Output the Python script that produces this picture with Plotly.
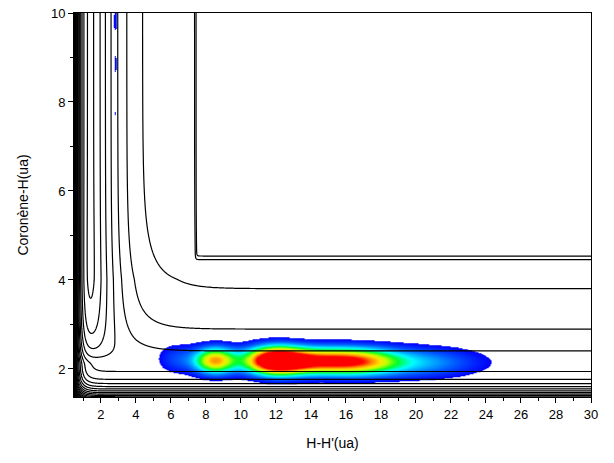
import numpy as np
import plotly.graph_objects as go

# ---------------- values ----------------
X_RANGE = [0.47, 30.0]
Y_RANGE = [1.37, 10.0]
X_MAJOR = list(range(2, 31, 2))
X_MINOR = list(range(1, 30, 2))
Y_MAJOR = [2, 4, 6, 8, 10]
Y_MINOR = [3, 5, 7, 9]

# Morse curves: depth (eV), range (1/ua), equilibrium distance (ua)
HH_MORSE = [4.75, 0.95, 1.40]
CH_MORSE = [2.10, 1.30, 2.15]
# outer C-H range parameter: value near the well, slope, floor
CH_OUTER_RANGE = [1.45, 0.22, 1.15]
# short-range H-H' wall felt while H is bound to coronene: amplitude (eV), steepness, position
HH_WALL = [1.0, 3.6, 1.05]
# dissociation plateau: height (eV), x edge, y edge, edge width
PLATEAU = [1.3, 7.42, 4.48, 0.034]
# contour levels (eV): first, last, step
LEVELS = [-4.62, 16.0, 0.68]

# wave-packet density lobes (centre x, centre y, width x, width y, amplitude)
LOBE_X = [6.3, 8.5, 11.9, 14.5, 17.0, 19.8, 2.83, 2.83, 2.83]
LOBE_Y = [2.23, 2.19, 2.19, 2.18, 2.17, 2.15, 9.82, 8.86, 7.74]
LOBE_SX = [0.8, 0.85, 1.2, 2.0, 1.5, 2.7, 0.13, 0.10, 0.08]
LOBE_SY = [0.24, 0.21, 0.22, 0.21, 0.21, 0.24, 0.26, 0.26, 0.15]
LOBE_AMP = [0.16, 0.76, 1.02, 0.8, 0.35, 0.30, 0.10, 0.095, 0.078]
DENSITY_THRESHOLD = 0.075

# ---------------- surfaces ----------------
def morse(r, depth, rng, req):
    u = np.exp(-rng * (r - req))
    return depth * (u * u - 2.0 * u)


def sigmoid(t):
    return 1.0 / (1.0 + np.exp(-t))


xg = np.unique(np.round(np.concatenate([
    np.arange(0.40, 2.0, 0.005),
    np.arange(2.0, 7.2, 0.02),
    np.arange(7.2, 7.65, 0.005),
    np.arange(7.65, 30.1, 0.1)]), 4))
yg = np.unique(np.round(np.concatenate([
    np.arange(1.30, 2.4, 0.004),
    np.arange(2.4, 4.3, 0.02),
    np.arange(4.3, 4.7, 0.005),
    np.arange(4.7, 10.06, 0.05)]), 4))
X, Y = np.meshgrid(xg, yg)

e_hh = morse(X, *HH_MORSE)
dy = Y - CH_MORSE[2]
a_out = np.maximum(CH_OUTER_RANGE[0] - CH_OUTER_RANGE[1] * np.maximum(dy - 0.5, 0.0), CH_OUTER_RANGE[2])
a_ch = np.where(dy > 0, a_out, CH_MORSE[1])
u_var = np.exp(-a_ch * dy)
e_ch = CH_MORSE[0] * (u_var * u_var - 2.0 * u_var)
u_ch = np.exp(-CH_MORSE[1] * dy)
k = 0.04
s = k * np.log1p(np.exp(np.clip((1.0 - u_ch) / k, -60, 60)))   # H-H' bond switch
wall = HH_WALL[0] * np.exp(-HH_WALL[1] * (X - HH_WALL[2]))
step = PLATEAU[0] * sigmoid((X - PLATEAU[1]) / PLATEAU[3]) * sigmoid((Y - PLATEAU[2]) / PLATEAU[3])
V = e_ch + s * e_hh + (1.0 - s) * wall + step
V = np.round(V, 3)


def density(xv, yv):
    DX, DY = np.meshgrid(xv, yv)
    d = np.zeros_like(DX)
    for cx, cy, sx, sy, a in zip(LOBE_X, LOBE_Y, LOBE_SX, LOBE_SY, LOBE_AMP):
        d += a * np.exp(-0.5 * ((DX - cx) / sx) ** 2 - 0.5 * ((DY - cy) / sy) ** 2)
    return np.round(d, 4)


bx1 = np.round(np.arange(4.8, 25.2, 0.03), 3)
by1 = np.round(np.arange(1.5, 2.96, 0.006), 3)
bx2 = np.round(np.arange(2.4, 3.31, 0.01), 3)
by2 = np.round(np.arange(7.3, 10.06, 0.01), 3)

t = DENSITY_THRESHOLD
jet = [
    [0.0, "rgba(255,255,255,0)"],
    [t - 0.0005, "rgba(255,255,255,0)"],
    [t, "rgb(0,0,250)"],
    [0.20, "rgb(0,90,255)"],
    [0.30, "rgb(0,180,255)"],
    [0.38, "rgb(0,255,255)"],
    [0.50, "rgb(0,255,40)"],
    [0.62, "rgb(190,255,0)"],
    [0.70, "rgb(255,230,0)"],
    [0.80, "rgb(255,140,0)"],
    [0.90, "rgb(255,0,0)"],
    [1.0, "rgb(255,0,0)"],
]

fig = go.Figure()
fig.add_trace(go.Contour(
    x=xg, y=yg, z=V,
    autocontour=False,
    contours=dict(start=LEVELS[0], end=LEVELS[1], size=LEVELS[2], coloring="lines"),
    colorscale=[[0, "black"], [1, "black"]],
    line=dict(width=1.2),
    showscale=False, hoverinfo="skip",
))
for bx, by in [(bx1, by1), (bx2, by2)]:
    fig.add_trace(go.Heatmap(
        x=bx, y=by, z=density(bx, by),
        zmin=0, zmax=1, zsmooth="best",
        colorscale=jet, showscale=False, hoverinfo="skip",
    ))

axis_common = dict(
    showline=True, linecolor="black", linewidth=1, mirror=True,
    ticks="outside", ticklen=5, tickwidth=1, tickcolor="black",
    showgrid=False, zeroline=False, automargin=False,
    tickfont=dict(size=13, color="black"),
)
fig.update_layout(
    width=614, height=463,
    margin=dict(l=74, r=23, t=13, b=66, autoexpand=False),
    paper_bgcolor="white", plot_bgcolor="white",
    font=dict(family="Liberation Sans, Arial, sans-serif", size=13, color="black"),
    showlegend=False,
    xaxis=dict(range=X_RANGE, tickvals=X_MAJOR,
               minor=dict(tickvals=X_MINOR, ticks="outside", ticklen=3, tickcolor="black", showgrid=False),
               title=dict(text="H-H'(ua)", font=dict(size=14), standoff=17),
               **axis_common),
    yaxis=dict(range=Y_RANGE, tickvals=Y_MAJOR,
               minor=dict(tickvals=Y_MINOR, ticks="outside", ticklen=3, tickcolor="black", showgrid=False),
               title=dict(text="Coronène-H(ua)", font=dict(size=14), standoff=19),
               **axis_common),
)
fig.write_html("out.html", config={"displayModeBar": False},
               post_script="document.body.style.margin='0';")
